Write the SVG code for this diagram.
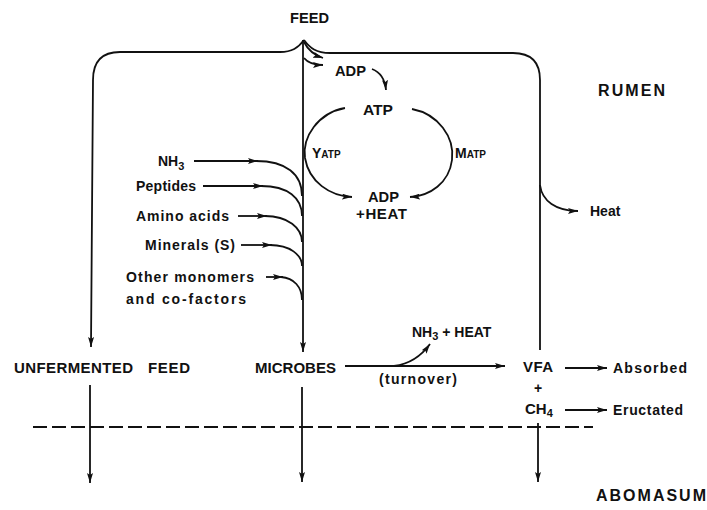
<svg xmlns="http://www.w3.org/2000/svg" width="707" height="510" viewBox="0 0 707 510">
<defs>
<marker id="ah" viewBox="0 0 10 6" refX="10" refY="3" markerWidth="10" markerHeight="6" markerUnits="userSpaceOnUse" orient="auto">
<path d="M0,0 L10,3 L0,6 L2,3 Z" fill="#111"/>
</marker>
</defs>
<style>
.ln{fill:none;stroke:#111;stroke-width:1.8}
.ar{fill:none;stroke:#111;stroke-width:1.8;marker-end:url(#ah)}
.t{font-family:"Liberation Sans",Arial,sans-serif;font-weight:bold;fill:#111;font-size:14px}
.cap{font-family:"Liberation Sans",Arial,sans-serif;font-weight:bold;fill:#111;font-size:15px}
.big{font-family:"Liberation Sans",Arial,sans-serif;font-weight:bold;fill:#111;font-size:16px}
.dash{fill:none;stroke:#111;stroke-width:1.8;stroke-dasharray:14 5}
</style>
<rect width="707" height="510" fill="#fff"/>

<g id="connectors">
<path class="ar" d="M304,40 C298,48 292,52 280,52 L120,52 Q93,52 93,80 L91,347"/>
<path class="ln" d="M304,40 C310,48 316,53 330,53 L513,53 Q540,53 540,80 L540,350"/>
<path class="ar" d="M303,40 L303,352"/>
<path class="ar" d="M304,42 C308,50 314,55 323,58"/>
<path class="ar" d="M304,58 C308,63 314,65 323,65"/>
<path class="ar" d="M372,69 C380,72 385,80 386,90"/>
<path class="ar" d="M345,108 C318,113 302,137 305,158 C309,182 330,196 352,197"/>
<path class="ar" d="M412,109 C438,114 455,137 452,160 C449,183 430,196 410,197"/>
<path class="ar" d="M540,185 C542,201 556,211 578,211"/>
<path class="ar" d="M194,161 L258,161"/>
<path class="ln" d="M256,161 C286,161 302,174 302,196"/>
<path class="ar" d="M203,186 L263,186"/>
<path class="ln" d="M261,186 C288,186 302,198 302,216"/>
<path class="ar" d="M238,216 L267,216"/>
<path class="ln" d="M265,216 C288,216 302,228 302,242"/>
<path class="ar" d="M241,245 L272,245"/>
<path class="ln" d="M270,245 C290,245 302,255 302,266"/>
<path class="ar" d="M266,277 L283,277"/>
<path class="ln" d="M281,277 C294,278 302,287 302,300"/>
<path class="ar" d="M345,366 L505,366"/>
<path class="ar" d="M394,366 C410,364 422,355 430,344"/>
<path class="ar" d="M565,368 L607,368"/>
<path class="ar" d="M565,410 L607,410"/>
<path class="ar" d="M90,385 L90,483"/>
<path class="ar" d="M302,387 L302,482"/>
<path class="ar" d="M538,423 L538,482"/>
<path class="dash" d="M33,427 L593,427"/>
</g>

<g id="feed"><text class="cap" x="290" y="23" textLength="39" lengthAdjust="spacingAndGlyphs">FEED</text></g>
<g id="rumen"><text class="big" x="598" y="96" textLength="67" lengthAdjust="spacing">RUMEN</text></g>
<g id="abomasum"><text class="big" x="596" y="501" textLength="110" lengthAdjust="spacing">ABOMASUM</text></g>
<g id="adp-top"><text class="cap" x="335" y="76" textLength="31" lengthAdjust="spacingAndGlyphs">ADP</text></g>
<g id="atp"><text class="cap" x="363" y="115" textLength="30" lengthAdjust="spacingAndGlyphs">ATP</text></g>
<g id="yatp"><text class="t" x="312" y="158"><tspan font-size="14">Y</tspan><tspan font-size="10">ATP</tspan></text></g>
<g id="matp"><text class="t" x="455" y="158"><tspan font-size="14">M</tspan><tspan font-size="10">ATP</tspan></text></g>
<g id="adp-heat">
<text class="cap" x="368" y="202" textLength="31" lengthAdjust="spacingAndGlyphs">ADP</text>
<text class="cap" x="356" y="219" textLength="51" lengthAdjust="spacing">+HEAT</text>
</g>
<g id="heat"><text class="t" x="590" y="216">Heat</text></g>
<g id="inputs">
<text class="t" x="158" y="166">NH<tspan font-size="11" dy="4">3</tspan></text>
<text class="t" x="136" y="191" textLength="60" lengthAdjust="spacing">Peptides</text>
<text class="t" x="136" y="221" textLength="93" lengthAdjust="spacing">Amino acids</text>
<text class="t" x="145" y="250" textLength="90" lengthAdjust="spacing">Minerals (S)</text>
<text class="t" x="126" y="282" textLength="128" lengthAdjust="spacing">Other monomers</text>
<text class="t" x="126" y="304" textLength="120" lengthAdjust="spacing">and co-factors</text>
</g>
<g id="unfermented">
<text class="cap" x="14" y="373" textLength="119" lengthAdjust="spacing">UNFERMENTED</text>
<text class="cap" x="148" y="373" textLength="42" lengthAdjust="spacing">FEED</text>
</g>
<g id="microbes"><text class="cap" x="255" y="373" textLength="81" lengthAdjust="spacing">MICROBES</text></g>
<g id="nh3heat"><text class="t" x="412" y="337">NH<tspan font-size="11" dy="3">3</tspan><tspan dy="-3"> + HEAT</tspan></text></g>
<g id="turnover"><text class="t" x="379" y="384" textLength="78" lengthAdjust="spacing">(turnover)</text></g>
<g id="vfa">
<text class="cap" x="523" y="372" textLength="30" lengthAdjust="spacing">VFA</text>
<text class="t" x="538" y="393" text-anchor="middle">+</text>
<text class="cap" x="525" y="414">CH<tspan font-size="11" dy="3">4</tspan></text>
</g>
<g id="absorbed"><text class="t" x="613" y="373" textLength="74" lengthAdjust="spacing">Absorbed</text></g>
<g id="eructated"><text class="t" x="613" y="415" textLength="70" lengthAdjust="spacing">Eructated</text></g>
</svg>
